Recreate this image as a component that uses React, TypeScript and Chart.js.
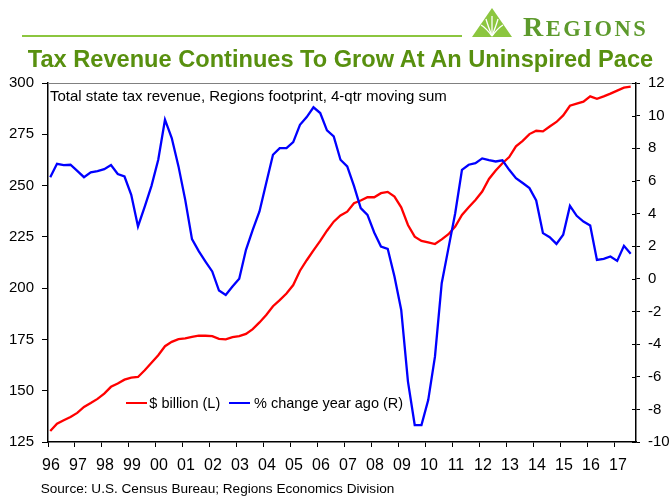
import React, { useEffect, useRef } from "react";
import { Chart, registerables } from "chart.js";

Chart.register(...registerables);

// Quarterly data, 1996 Q1 .. 2017 Q3
const startYear = 1996;
const yearTicks = [
  1996, 1997, 1998, 1999, 2000, 2001, 2002, 2003, 2004, 2005, 2006,
  2007, 2008, 2009, 2010, 2011, 2012, 2013, 2014, 2015, 2016, 2017,
];

// Total state tax revenue, $ billion (left axis)
const revenue = [
  130.4, 133.9, 135.6, 137.2, 139.2, 142.1, 144.0, 146.0, 148.6, 151.9,
  153.5, 155.4, 156.4, 156.7, 160.0, 163.6, 167.3, 171.7, 173.8, 175.1,
  175.5, 176.3, 176.8, 176.8, 176.6, 175.3, 175.0, 176.1, 176.6, 177.7,
  180.0, 183.3, 186.9, 191.2, 194.2, 197.4, 201.5, 208.5, 213.6, 218.4,
  223.0, 228.0, 232.4, 235.4, 237.3, 241.4, 242.7, 244.3, 244.3, 246.3,
  246.9, 244.6, 239.4, 230.8, 225.1, 223.0, 222.3, 221.5, 223.8, 226.3,
  230.0, 235.7, 239.4, 243.0, 247.1, 253.2, 257.3, 260.9, 263.9, 269.1,
  271.8, 275.1, 276.7, 276.4, 278.8, 281.0, 284.2, 288.9, 289.9, 290.9,
  293.5, 292.3, 293.5, 294.8, 296.3, 297.7, 298.2,
];

// % change year ago (right axis)
const pctChange = [
  6.23, 7.05, 6.97, 6.99, 6.62, 6.23, 6.52, 6.6, 6.72, 6.97,
  6.42, 6.27, 5.15, 3.21, 4.43, 5.7, 7.3, 9.75, 8.63, 6.89,
  4.84, 2.43, 1.7, 1.06, 0.45, -0.72, -0.99, -0.47, 0.0, 1.78,
  3.0, 4.13, 5.87, 7.6, 8.01, 8.01, 8.38, 9.44, 9.91, 10.51,
  10.16, 9.1, 8.73, 7.3, 6.89, 5.7, 4.33, 3.92, 2.84, 1.98,
  1.84, 0.14, -1.91, -6.3, -8.96, -8.96, -7.43, -4.77, -0.27, 1.88,
  4.02, 6.68, 6.99, 7.09, 7.38, 7.28, 7.19, 7.26, 6.68, 6.17,
  5.87, 5.56, 4.8, 2.8, 2.55, 2.14, 2.7, 4.47, 3.86, 3.51,
  3.27, 1.16, 1.22, 1.37, 1.1, 2.02, 1.53,
];

const FONT = '"Liberation Sans", Arial, Helvetica, sans-serif';

const framePlugin = {
  id: "frame",
  afterDraw(chart: any) {
    const { ctx, chartArea } = chart;
    const y1 = chart.scales.y1;
    ctx.save();
    // grey top border of the plot area
    ctx.strokeStyle = "#808080";
    ctx.lineWidth = 1;
    ctx.beginPath();
    ctx.moveTo(chartArea.left, chartArea.top + 0.5);
    ctx.lineTo(chartArea.right, chartArea.top + 0.5);
    ctx.stroke();
    // inner half of the right-axis tick marks
    ctx.strokeStyle = "#000";
    ctx.beginPath();
    y1.ticks.forEach((t: any) => {
      const py = Math.round(y1.getPixelForValue(t.value)) + 0.5;
      ctx.moveTo(chartArea.right - 4, py);
      ctx.lineTo(chartArea.right, py);
    });
    ctx.stroke();
    ctx.restore();
  },
};

export default function App() {
  const ref = useRef<HTMLCanvasElement>(null);

  useEffect(() => {
    const xs = revenue.map((_, i) => startYear + i / 4 + 1 / 12);
    const chart = new Chart(ref.current as HTMLCanvasElement, {
      type: "line",
      data: {
        datasets: [
          {
            label: "$ billion (L)",
            data: revenue.map((v, i) => ({ x: xs[i], y: v })),
            borderColor: "#ff0000",
            backgroundColor: "#ff0000",
            borderWidth: 2.3,
            pointRadius: 0,
            tension: 0,
            yAxisID: "y",
            order: 2,
          },
          {
            label: "% change year ago (R)",
            data: pctChange.map((v, i) => ({ x: xs[i], y: v })),
            borderColor: "#0000ff",
            backgroundColor: "#0000ff",
            borderWidth: 2.3,
            pointRadius: 0,
            tension: 0,
            yAxisID: "y1",
            order: 1,
          },
        ],
      },
      plugins: [framePlugin],
      options: {
        animation: false,
        responsive: false,
        devicePixelRatio: 1,
        layout: { padding: { top: 83, left: 0, right: 0, bottom: 0 } },
        plugins: {
          legend: { display: false },
          title: { display: false },
          tooltip: { enabled: false },
        },
        scales: {
          x: {
            type: "linear",
            position: "bottom",
            min: 1996,
            max: 2017.78,
            afterBuildTicks: (s: any) => {
              s.ticks = yearTicks.map((v) => ({ value: v }));
            },
            afterFit: (s: any) => {
              s.height = 54;
            },
            ticks: {
              callback: (v: any) => String(Math.round(Number(v)) % 100).padStart(2, "0"),
              font: { family: FONT, size: 16 },
              color: "#000",
              padding: 9,
              labelOffset: 3,
              maxRotation: 0,
              autoSkip: false,
            },
            grid: {
              drawOnChartArea: false,
              drawTicks: true,
              tickLength: 5,
              color: "#000",
              tickColor: "#000",
            },
            border: { display: true, color: "#000", width: 1.5 },
          },
          y: {
            position: "left",
            min: 125,
            max: 300,
            afterFit: (s: any) => {
              s.width = 48;
            },
            ticks: {
              stepSize: 25,
              font: { family: FONT, size: 15 },
              color: "#000",
              padding: 8,
            },
            grid: {
              drawOnChartArea: false,
              drawTicks: true,
              tickLength: 6,
              color: "#000",
              tickColor: "#000",
            },
            border: { display: true, color: "#000", width: 1.5 },
          },
          y1: {
            position: "right",
            min: -10,
            max: 12,
            afterFit: (s: any) => {
              s.width = 34;
            },
            ticks: {
              stepSize: 2,
              font: { family: FONT, size: 15 },
              color: "#000",
              padding: 8,
            },
            grid: {
              drawOnChartArea: false,
              drawTicks: true,
              tickLength: 4,
              color: "#000",
              tickColor: "#000",
            },
            border: { display: true, color: "#000", width: 1.5 },
          },
        },
      },
    } as any);
    return () => chart.destroy();
  }, []);

  const abs = (s: React.CSSProperties): React.CSSProperties => ({
    position: "absolute",
    margin: 0,
    whiteSpace: "nowrap",
    ...s,
  });

  return (
    <div
      style={{
        position: "fixed",
        left: 0,
        top: 0,
        width: 670,
        height: 496,
        background: "#fff",
        overflow: "hidden",
        fontFamily: FONT,
      }}
    >
      <canvas
        ref={ref}
        width={670}
        height={496}
        style={{ position: "absolute", left: 0, top: 0, width: 670, height: 496 }}
      />
      {/* header rule */}
      <div style={abs({ left: 22, top: 35, width: 440, height: 2, background: "#8cc63f" })} />
      {/* logo mark */}
      <svg style={abs({ left: 472, top: 8 })} width={40} height={29} viewBox="0 0 40 29">
        <polygon points="0,29 20,0 40,29" fill="#8cc63f" />
        <g stroke="#fff" strokeWidth={1.3} fill="none">
          <path d="M20 28 Q14 20 9 17" />
          <path d="M20 28 Q16 18 14 11" />
          <path d="M20 28 Q20 17 20 8" />
          <path d="M20 28 Q24 18 26 11" />
          <path d="M20 28 Q26 20 31 17" />
        </g>
      </svg>
      <div
        style={abs({
          left: 523,
          top: 13,
          lineHeight: "28px",
          fontFamily: '"Liberation Serif", "DejaVu Serif", serif',
          fontWeight: 700,
          color: "#5d9a2c",
          letterSpacing: "2.5px",
        })}
      >
        <span style={{ fontSize: 28 }}>R</span>
        <span style={{ fontSize: 22.5 }}>EGIONS</span>
      </div>
      {/* title */}
      <div
        style={abs({
          left: 0,
          width: 670,
          textAlign: "center",
          top: 48.3,
          fontSize: 23.6,
          lineHeight: "23.6px",
          fontWeight: 700,
          color: "#58900f",
          paddingLeft: 11,
          boxSizing: "border-box",
        })}
      >
        Tax Revenue Continues To Grow At An Uninspired Pace
      </div>
      {/* in-chart note */}
      <div style={abs({ left: 50, top: 88, fontSize: 15, lineHeight: "15px", color: "#000" })}>
        Total state tax revenue, Regions footprint, 4-qtr moving sum
      </div>
      {/* legend */}
      <div style={abs({ left: 126, top: 401.7, width: 21, height: 2, background: "#ff0000" })} />
      <div style={abs({ left: 149.3, top: 395.7, fontSize: 14.5, lineHeight: "14.5px", color: "#000" })}>
        $ billion (L)
      </div>
      <div style={abs({ left: 229.3, top: 401.7, width: 21, height: 2, background: "#0000ff" })} />
      <div style={abs({ left: 254, top: 395.7, fontSize: 14.5, lineHeight: "14.5px", color: "#000" })}>
        % change year ago (R)
      </div>
      {/* source */}
      <div style={abs({ left: 40.7, top: 481.8, fontSize: 13.6, lineHeight: "13.6px", color: "#000" })}>
        Source: U.S. Census Bureau; Regions Economics Division
      </div>
    </div>
  );
}
